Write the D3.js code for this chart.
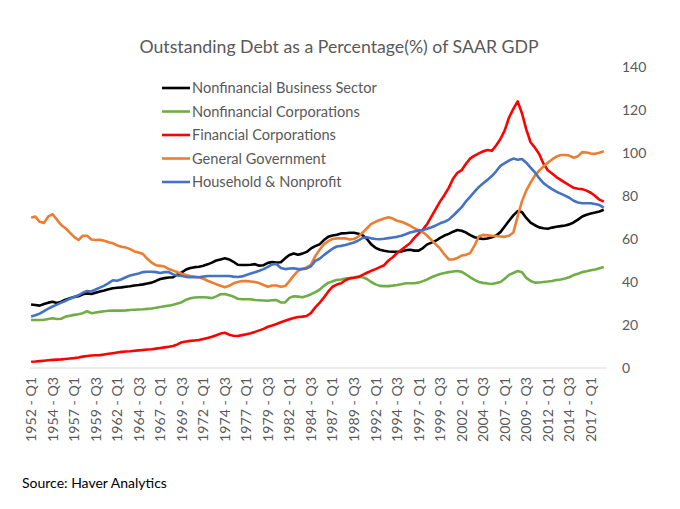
<!DOCTYPE html>
<html><head><meta charset="utf-8">
<script src="https://cdn.jsdelivr.net/npm/d3@7"></script>
<style>
body{margin:0;background:#fff;}
text{font-family:Lato, "Open Sans", sans-serif;}
</style></head>
<body><svg id="c" width="680" height="509"></svg>
<script>
const title = "Outstanding Debt as a Percentage(%) of SAAR GDP";
const source = "Source: Haver Analytics";
const years = d3.range(1952, 2019);
const quarters = [];
years.forEach(y => [1,2,3,4].forEach(q => quarters.push(y + " - Q" + q)));
const tickLabels = ["1952 - Q1","1954 - Q3","1957 - Q1","1959 - Q3","1962 - Q1","1964 - Q3","1967 - Q1","1969 - Q3","1972 - Q1","1974 - Q3","1977 - Q1","1979 - Q3","1982 - Q1","1984 - Q3","1987 - Q1","1989 - Q3","1992 - Q1","1994 - Q3","1997 - Q1","1999 - Q3","2002 - Q1","2004 - Q3","2007 - Q1","2009 - Q3","2012 - Q1","2014 - Q3","2017 - Q1"];
const yTicks = [0,20,40,60,80,100,120,140];
// values sampled at Q1 and Q3 of every year, 1952 - Q1 .. 2018 - Q3
const sampleQuarters = quarters.filter((d,i) => i % 2 === 0);

const nonfinBusiness = [29.5,29.3,29.0,29.8,30.4,30.8,30.2,30.8,31.8,32.4,33.0,33.4,34.3,34.7,34.4,35.0,35.6,36.0,36.6,37.1,37.3,37.5,37.8,38.0,38.4,38.6,38.9,39.3,39.7,40.5,41.4,41.8,42.1,42.2,43.5,44.5,45.8,46.5,46.9,47.1,47.6,48.2,49.0,50.0,50.5,51.0,50.5,49.4,48.0,47.9,47.9,48.0,48.3,47.6,47.8,48.9,49.3,49.1,49.2,51.0,52.6,53.3,52.7,53.2,54.0,55.6,56.7,57.5,59.5,61.0,61.6,62.0,62.6,62.7,62.9,62.9,62.4,61.7,60.0,57.5,55.9,55.0,54.5,54.2,54.1,54.1,54.2,54.8,55.0,54.6,54.6,55.8,57.5,58.3,59.2,60.5,61.6,62.4,63.4,64.2,63.8,63.0,61.8,60.8,60.3,60.0,60.2,60.8,61.6,63.2,65.8,68.5,71.0,73.0,72.5,69.8,67.6,66.4,65.4,65.0,64.8,65.3,65.7,66.0,66.3,66.8,67.7,69.0,70.5,71.3,71.9,72.3,72.8,73.6];
const nonfinCorp = [22.3,22.3,22.3,22.4,22.8,23.1,22.8,22.9,23.9,24.3,24.7,25.0,25.5,26.4,25.5,25.8,26.1,26.4,26.6,26.7,26.7,26.7,26.8,27.0,27.1,27.2,27.3,27.5,27.7,28.0,28.4,28.7,29.0,29.4,30.0,30.6,31.8,32.4,32.8,32.9,32.9,32.8,32.5,33.3,34.3,34.4,33.8,33.2,32.2,32.0,32.0,32.0,31.6,31.5,31.4,31.3,31.5,31.6,30.5,30.5,32.6,33.4,33.2,32.9,33.5,34.3,35.3,36.4,38.2,39.6,40.3,40.9,41.2,41.6,41.8,42.1,42.5,42.2,41.4,40.0,38.9,38.2,38.1,38.1,38.3,38.6,39.0,39.4,39.4,39.4,39.7,40.4,41.2,42.2,43.0,43.7,44.2,44.6,44.9,45.1,44.7,43.5,42.2,41.0,40.0,39.6,39.3,39.1,39.5,40.0,41.5,43.3,44.2,45.1,44.5,41.9,40.5,39.7,39.8,40.0,40.2,40.5,40.9,41.2,41.6,42.2,43.2,43.8,44.6,45.0,45.5,45.8,46.4,47.0];
const finCorp = [2.9,3.0,3.2,3.4,3.6,3.8,3.9,4.0,4.2,4.4,4.6,4.9,5.3,5.6,5.8,5.9,6.0,6.3,6.6,6.9,7.2,7.5,7.7,7.8,8.0,8.2,8.4,8.6,8.7,9.0,9.3,9.6,9.9,10.2,11.0,12.0,12.3,12.6,12.8,13.0,13.5,14.0,14.5,15.2,16.0,16.4,15.5,15.0,14.9,15.3,15.7,16.2,16.8,17.5,18.2,19.2,19.8,20.5,21.3,22.0,22.7,23.3,23.7,23.9,24.2,25.6,28.2,30.3,32.8,35.5,37.8,38.8,39.4,40.8,41.7,42.0,42.3,43.3,44.3,45.2,46.0,46.9,47.8,50.0,51.5,53.5,55.0,56.5,58.0,60.5,62.5,64.5,67.0,70.5,74.0,77.5,80.5,83.8,88.0,90.8,92.0,95.0,97.5,98.8,99.8,100.8,101.4,101.0,103.5,106.5,110.5,116.5,120.5,124.0,118.5,111.0,105.0,102.5,99.5,95.0,92.0,90.5,88.8,87.5,86.2,85.0,83.8,83.4,83.2,82.5,81.5,80.0,78.3,77.4];
const generalGov = [70.0,70.4,68.0,67.5,70.5,71.5,69.0,66.5,65.0,63.0,61.0,59.5,61.5,61.5,59.8,59.5,59.6,59.2,58.5,58.0,57.0,56.4,56.0,55.3,54.2,53.7,53.0,50.8,49.0,47.8,47.5,47.2,46.0,45.3,44.5,43.8,43.2,42.8,42.5,42.2,41.5,40.6,39.8,39.0,38.3,37.6,38.2,39.4,40.0,40.5,40.4,40.2,40.0,39.5,38.6,37.8,38.4,38.4,37.8,38.1,40.4,43.0,45.2,46.2,46.8,48.0,52.0,55.0,57.5,59.0,60.0,60.3,60.3,60.3,59.8,60.0,61.1,63.0,65.0,67.0,68.0,68.8,69.5,70.1,69.5,68.5,68.0,67.2,66.2,65.0,64.1,63.1,61.5,59.5,57.5,55.5,52.8,50.5,50.5,51.2,52.3,52.6,53.5,57.0,61.3,61.9,61.7,61.5,61.4,61.2,61.0,61.5,63.0,70.5,77.5,82.5,86.2,89.5,91.8,93.8,95.5,97.0,98.3,99.1,99.1,98.8,97.8,98.5,100.4,100.2,99.8,99.6,100.1,100.8];
const household = [23.9,24.5,25.3,26.5,27.6,28.6,29.5,30.4,31.2,32.2,33.0,33.8,35.0,35.8,35.6,36.5,37.4,38.3,39.5,40.8,40.6,41.3,42.2,43.0,43.5,44.0,44.6,44.8,44.8,44.6,44.2,44.6,44.6,43.5,43.0,42.8,42.4,42.2,42.2,42.2,42.5,42.8,42.8,42.8,42.8,42.8,42.8,42.5,42.3,42.6,43.3,43.9,44.5,45.2,46.0,47.0,48.2,48.4,46.5,46.0,46.3,46.4,46.0,46.0,46.3,47.3,49.8,50.8,52.5,54.0,55.5,56.5,56.8,57.2,57.8,58.4,59.3,60.5,60.8,60.3,60.0,59.9,60.1,60.4,60.7,61.0,61.5,62.2,63.0,63.5,63.9,64.2,64.8,65.5,66.3,67.3,68.0,69.0,70.8,72.8,74.8,77.5,79.7,82.0,84.2,85.9,87.5,89.3,91.5,94.0,95.3,96.5,97.4,96.9,97.2,95.5,93.2,91.0,88.3,86.0,84.5,83.2,82.0,81.1,80.2,79.2,77.8,77.0,76.6,76.6,76.6,76.3,75.8,74.6];

const seriesNames = ["Nonfinancial Business Sector","Nonfinancial Corporations","Financial Corporations","General Government","Household & Nonprofit"];
const seriesColors = ["#000000","#70AD47","#FF0000","#ED7D31","#4472C4"];
const seriesValues = [nonfinBusiness, nonfinCorp, finCorp, generalGov, household];

const svg = d3.select("#c");
const x = d3.scaleBand().domain(quarters).range([30, 607]);
const y = d3.scaleLinear().domain([0, 140]).range([368, 67]);
const xc = q => x(q) + x.bandwidth() / 2;

svg.append("text").attr("x", 339).attr("y", 53).attr("text-anchor", "middle")
  .attr("font-size", 17.7).attr("fill", "#595959").text(title);

// baseline
svg.append("line").attr("x1", 30).attr("x2", 607).attr("y1", y(0)).attr("y2", y(0))
  .attr("stroke", "#d9d9d9").attr("stroke-width", 1);

// right axis
const ya = svg.append("g").attr("transform", "translate(614,0)")
  .call(d3.axisRight(y).tickValues(yTicks).tickSize(0).tickPadding(8));
ya.select(".domain").remove();
ya.selectAll("text").attr("font-size", 14).attr("fill", "#595959").style("font-family", "Lato, sans-serif");

// bottom axis
const xa = svg.append("g").attr("transform", `translate(0,${y(0)})`)
  .call(d3.axisBottom(x).tickValues(tickLabels).tickSize(0));
xa.select(".domain").remove();
xa.selectAll("text").attr("font-size", 14.2).attr("fill", "#595959").style("font-family", "Lato, sans-serif")
  .attr("text-anchor", "end").attr("transform", "rotate(-90)").attr("x", -9).attr("y", 0).attr("dy", "0.35em");

const line = d3.line().x((d, i) => xc(sampleQuarters[i])).y(d => y(d));
seriesValues.forEach((vals, k) => {
  svg.append("path").datum(vals).attr("d", line).attr("fill", "none")
    .attr("stroke", seriesColors[k]).attr("stroke-width", 2.6).attr("stroke-linejoin", "round");
});

// legend
const lg = svg.append("g");
seriesNames.forEach((n, k) => {
  const yy = 88 + k * 23.5;
  lg.append("line").attr("x1", 162).attr("x2", 190).attr("y1", yy).attr("y2", yy)
    .attr("stroke", seriesColors[k]).attr("stroke-width", 2.6);
  lg.append("text").attr("x", 192).attr("y", yy).attr("dy", "0.35em").attr("font-size", 14.6)
    .attr("fill", "#595959").text(n);
});

svg.append("text").attr("x", 22).attr("y", 488).attr("font-size", 14).attr("fill", "#000").text(source);
</script></body></html>
